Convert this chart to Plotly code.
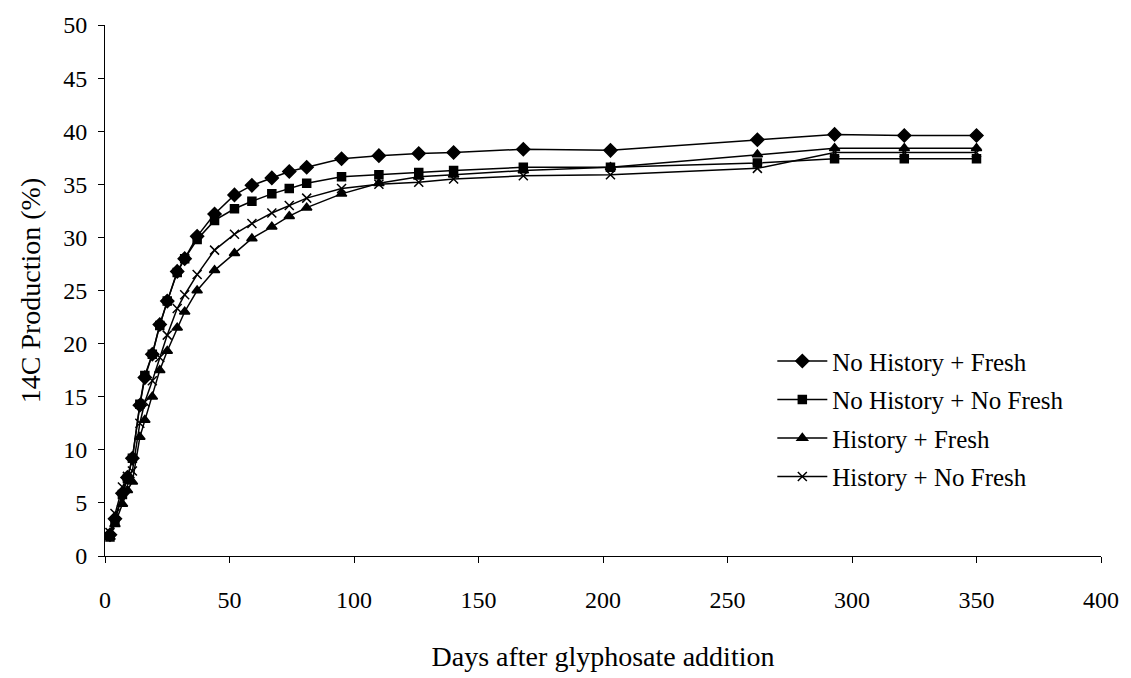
import plotly.graph_objects as go

days = [2, 4, 7, 9, 11, 14, 16, 19, 22, 25, 29, 32, 37, 44, 52, 59, 67, 74, 81, 95,
        110, 126, 140, 168, 203, 262, 293, 321, 350]

no_hist_fresh = [2.0, 3.5, 5.9, 7.4, 9.2, 14.2, 16.8, 19.0, 21.8, 24.0, 26.8, 28.0, 30.1, 32.2,
                 34.0, 34.9, 35.6, 36.2, 36.6, 37.4, 37.7, 37.9, 38.0, 38.3, 38.2, 39.2, 39.7,
                 39.6, 39.6]
no_hist_nofresh = [1.8, 3.3, 5.8, 7.3, 9.2, 14.3, 17.0, 19.0, 21.7, 24.0, 26.7, 28.0, 29.8, 31.6,
                   32.7, 33.4, 34.1, 34.6, 35.1, 35.7, 35.9, 36.1, 36.3, 36.6, 36.6, 37.0, 37.4,
                   37.4, 37.4]
hist_fresh = [1.8, 3.0, 4.9, 6.2, 7.0, 11.2, 12.8, 15.0, 17.5, 19.3, 21.5, 23.0, 25.0, 26.9,
              28.5, 29.9, 31.0, 32.0, 32.8, 34.1, 35.1, 35.7, 35.9, 36.3, 36.6, 37.8, 38.4,
              38.4, 38.4]
hist_nofresh = [2.2, 4.0, 6.5, 7.5, 8.0, 12.5, 14.5, 16.5, 18.7, 20.8, 23.3, 24.6, 26.5, 28.8,
                30.3, 31.3, 32.3, 33.0, 33.7, 34.6, 35.0, 35.2, 35.5, 35.8, 35.9, 36.5, 38.0,
                38.0, 38.0]

series = [
    ("No History + Fresh", no_hist_fresh, "diamond", 10),
    ("No History + No Fresh", no_hist_nofresh, "square", 8),
    ("History + Fresh", hist_fresh, "triangle-up", 9),
    ("History + No Fresh", hist_nofresh, "x-thin", 9),
]

x_ticks = [0, 50, 100, 150, 200, 250, 300, 350, 400]
y_ticks = [0, 5, 10, 15, 20, 25, 30, 35, 40, 45, 50]

fig = go.Figure()
for i, (name, vals, sym, size) in enumerate(series):
    fig.add_trace(go.Scatter(
        x=days, y=vals, name=name, mode="lines+markers",
        legendgroup=f"g{i}",
        line=dict(color="black", width=1.5),
        marker=dict(symbol=sym, size=size, color="black",
                    line=dict(color="black", width=1.5)),
    ))

font = "Liberation Serif, Times New Roman, serif"
fs = 24
fig.update_layout(
    width=1131, height=678,
    margin=dict(l=105, r=26, t=22, b=121),
    paper_bgcolor="white", plot_bgcolor="white",
    font=dict(family=font, size=fs, color="black"),
    showlegend=True,
    legend=dict(x=0.67, y=0.41, xanchor="left", yanchor="top",
                bgcolor="rgba(0,0,0,0)", font=dict(family=font, size=25),
                itemwidth=50, tracegroupgap=3, traceorder="grouped"),
    xaxis=dict(range=[0, 400], tickvals=x_ticks, showgrid=False, zeroline=False,
               showline=True, linecolor="black", linewidth=1,
               ticks="outside", ticklen=6, tickcolor="black",
               ticklabelstandoff=16, tickfont=dict(size=fs),
               title=dict(text="Days after glyphosate addition", standoff=34,
                          font=dict(family=font, size=28))),
    yaxis=dict(range=[0, 50], tickvals=y_ticks, showgrid=False, zeroline=False,
               showline=True, linecolor="black", linewidth=1,
               ticks="outside", ticklen=6, tickcolor="black",
               ticklabelstandoff=6, tickfont=dict(size=fs),
               title=dict(text="14C Production (%)", standoff=14,
                          font=dict(family=font, size=28))),
)

fig.write_html("out.html")
